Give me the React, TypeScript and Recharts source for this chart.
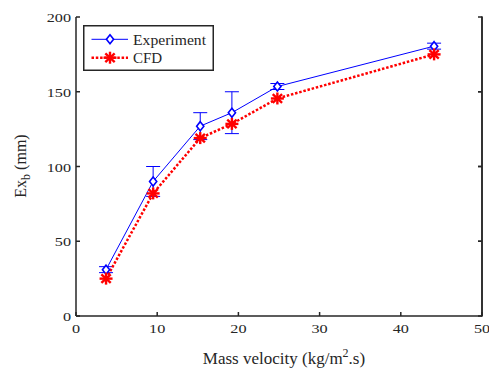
import React from 'react';
import { ComposedChart, Line, XAxis, YAxis, ErrorBar } from 'recharts';

const massVelocity = [3.7, 9.5, 15.3, 19.2, 24.8, 44.1];
const experiment = [31, 90, 127, 136, 153.5, 180.5];
const experimentError = [2, 10, 9, 14, 2, 2];
const cfd = [25, 82, 119, 128.5, 145.5, 175];
const xTicks = [0, 10, 20, 30, 40, 50];
const yTicks = [0, 50, 100, 150, 200];
const seriesNames = ['Experiment', 'CFD'];

const data = massVelocity.map((x, i) => ({
  x,
  experiment: experiment[i],
  err: experimentError[i],
  cfd: cfd[i],
}));

const FONT = "'Liberation Serif', 'Times New Roman', serif";
const AXIS = '#262626';
const BLUE = '#0000ff';
const RED = '#ff0000';

const PLOT_TOP = 17;
const PLOT_BOTTOM = 316;
const PLOT_RIGHT = 482;

const Diamond = ({ cx, cy }: any) =>
  cx == null ? null : (
    <path
      d={`M${cx},${cy - 4.5} L${cx + 3.6},${cy} L${cx},${cy + 4.5} L${cx - 3.6},${cy} Z`}
      fill="#fff"
      stroke={BLUE}
      strokeWidth={1.6}
    />
  );

const Star = ({ cx, cy }: any) => {
  if (cx == null) return null;
  const rx = 6.5;
  const ry = 6;
  const dx = rx * 0.72;
  const dy = ry * 0.72;
  return (
    <g stroke={RED} strokeWidth={2.4} strokeLinecap="butt">
      <line x1={cx - rx} y1={cy} x2={cx + rx} y2={cy} />
      <line x1={cx} y1={cy - ry} x2={cx} y2={cy + ry} />
      <line x1={cx - dx} y1={cy - dy} x2={cx + dx} y2={cy + dy} />
      <line x1={cx - dx} y1={cy + dy} x2={cx + dx} y2={cy - dy} />
    </g>
  );
};

const BottomTick = ({ x, y, payload }: any) => (
  <g>
    <line x1={x} y1={y} x2={x} y2={y - 4} stroke={AXIS} strokeWidth={1.5} />
    <text
      x={0}
      y={0}
      transform={`translate(${x},${y + 17}) scale(1.2,1)`}
      textAnchor="middle"
      fontFamily={FONT}
      fontSize={13.5}
      fill={AXIS}
    >
      {payload.value}
    </text>
  </g>
);

const LeftTick = ({ x, y, payload }: any) => (
  <g>
    <line x1={x} y1={y} x2={x + 4} y2={y} stroke={AXIS} strokeWidth={1.5} />
    <text
      x={0}
      y={0}
      transform={`translate(${x - 5},${y + 5}) scale(1.2,1)`}
      textAnchor="end"
      fontFamily={FONT}
      fontSize={13.5}
      fill={AXIS}
    >
      {payload.value}
    </text>
  </g>
);

const TopTick = ({ x, y }: any) => (
  <line x1={x} y1={y} x2={x} y2={y + 4} stroke={AXIS} strokeWidth={1.5} />
);

const RightTick = ({ x, y }: any) => (
  <line x1={x} y1={y} x2={x - 4} y2={y} stroke={AXIS} strokeWidth={1.5} />
);

const LegendBox = () => (
  <svg width={132} height={47} style={{ display: 'block', overflow: 'visible' }}>
    <rect x={0.75} y={0.75} width={129.5} height={44.5} fill="#fff" stroke={AXIS} strokeWidth={1.5} />
    <line x1={8.5} y1={14.3} x2={45} y2={14.3} stroke={BLUE} strokeWidth={1} />
    <Diamond cx={27} cy={14.3} />
    <text x={50} y={19.5} fontFamily={FONT} fontSize={15} fill={AXIS} textLength={73} lengthAdjust="spacingAndGlyphs">
      {seriesNames[0]}
    </text>
    <line x1={8.5} y1={32.7} x2={45} y2={32.7} stroke={RED} strokeWidth={2.5} strokeDasharray="2.5 1.8" />
    <Star cx={27} cy={32.7} />
    <text x={50} y={38} fontFamily={FONT} fontSize={15} fill={AXIS}>
      {seriesNames[1]}
    </text>
  </svg>
);

const RightFrame = () => {
  const yMax = yTicks[yTicks.length - 1];
  const toY = (v: number) => PLOT_BOTTOM - (v / yMax) * (PLOT_BOTTOM - PLOT_TOP);
  return (
    <svg
      width={489}
      height={371}
      style={{ position: 'absolute', left: 0, top: 0, pointerEvents: 'none' }}
    >
      <line x1={PLOT_RIGHT} y1={PLOT_TOP - 0.75} x2={PLOT_RIGHT} y2={PLOT_BOTTOM + 0.75} stroke={AXIS} strokeWidth={1.5} />
      {yTicks.slice(1, -1).map((v) => (
        <line key={v} x1={PLOT_RIGHT} y1={toY(v)} x2={PLOT_RIGHT - 4} y2={toY(v)} stroke={AXIS} strokeWidth={1.5} />
      ))}
    </svg>
  );
};

export default function App() {
  return (
    <div style={{ width: 489, height: 371, background: '#fff', position: 'absolute', left: 0, top: 0, overflow: 'hidden' }}>
      <ComposedChart
        width={489}
        height={371}
        data={data}
        margin={{ top: 17, right: 6, left: 0, bottom: 0 }}
      >
        <XAxis
          dataKey="x"
          type="number"
          domain={[0, 50]}
          ticks={xTicks}
          interval={0}
          height={55}
          tickSize={0}
          tickMargin={0}
          tickLine={false}
          axisLine={{ stroke: AXIS, strokeWidth: 1.5 }}
          tick={<BottomTick />}
          label={{
            content: () => (
              <text x={284} y={364} textAnchor="middle" fontFamily={FONT} fontSize={17} fill={AXIS}>
                Mass velocity (kg/m
                <tspan dy={-7} fontSize={12}>2</tspan>
                <tspan dy={7}>.s)</tspan>
              </text>
            ),
          }}
        />
        <XAxis
          xAxisId="top"
          orientation="top"
          type="number"
          domain={[0, 50]}
          ticks={xTicks}
          interval={0}
          height={0}
          tickSize={0}
          tickMargin={0}
          tickLine={false}
          axisLine={{ stroke: AXIS, strokeWidth: 1.5 }}
          tick={<TopTick />}
        />
        <YAxis
          type="number"
          domain={[0, 200]}
          ticks={yTicks}
          interval={0}
          width={76}
          tickSize={0}
          tickMargin={0}
          tickLine={false}
          axisLine={{ stroke: AXIS, strokeWidth: 1.5 }}
          tick={<LeftTick />}
          label={{
            content: () => (
              <text
                x={0}
                y={0}
                transform="translate(25.5,166) rotate(-90)"
                textAnchor="middle"
                fontFamily={FONT}
                fontSize={16}
                fill={AXIS}
              >
                Ex
                <tspan dy={4} fontSize={12}>b</tspan>
                <tspan dy={-4}> (mm)</tspan>
              </text>
            ),
          }}
        />
        <YAxis
          yAxisId="right"
          orientation="right"
          type="number"
          domain={[0, 200]}
          ticks={yTicks}
          interval={0}
          width={1}
          tickSize={0}
          tickMargin={0}
          tickLine={false}
          axisLine={{ stroke: AXIS, strokeWidth: 1.5 }}
          tick={<RightTick />}
        />
        <Line
          dataKey="experiment"
          name={seriesNames[0]}
          stroke={BLUE}
          strokeWidth={1}
          dot={<Diamond />}
          activeDot={false}
          isAnimationActive={false}
        >
          <ErrorBar dataKey="err" width={7} stroke={BLUE} strokeWidth={1} direction="y" />
        </Line>
        <Line
          yAxisId="right"
          dataKey="cfd"
          name={seriesNames[1]}
          stroke={RED}
          strokeWidth={2.5}
          strokeDasharray="2.5 1.8"
          dot={<Star />}
          activeDot={false}
          isAnimationActive={false}
        />
      </ComposedChart>
      <RightFrame />
      <div style={{ position: 'absolute', left: 83, top: 25, pointerEvents: 'none' }}>
        <LegendBox />
      </div>
    </div>
  );
}
